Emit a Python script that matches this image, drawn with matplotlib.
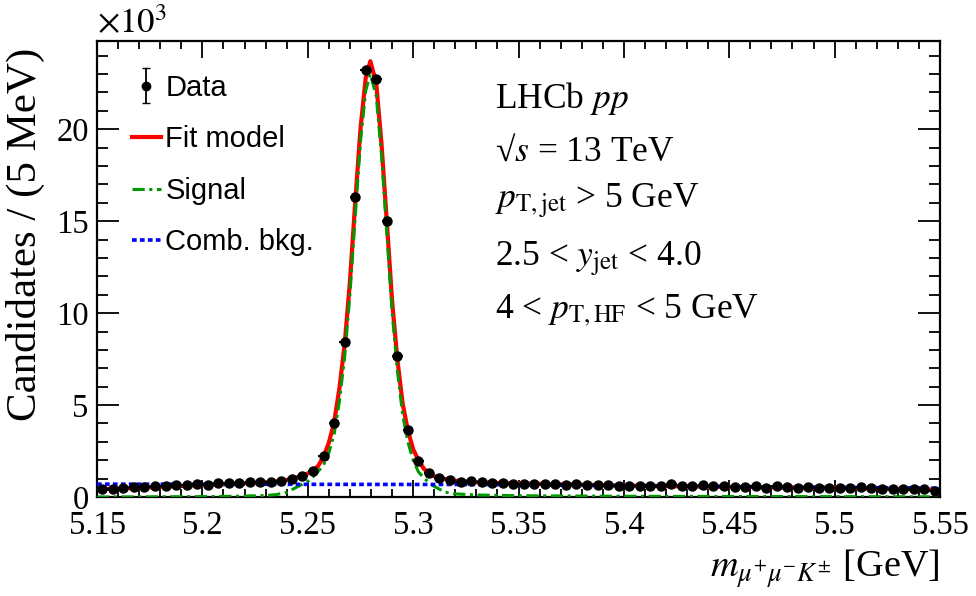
import numpy as np
import matplotlib
matplotlib.use("Agg")
from matplotlib import pyplot as plt
from matplotlib.lines import Line2D
from matplotlib.container import ErrorbarContainer
from matplotlib.legend_handler import HandlerErrorbar
from matplotlib.ticker import MultipleLocator, FuncFormatter

plt.rcParams['mathtext.fontset'] = 'stix'
plt.rcParams['font.family'] = ['Liberation Serif', 'DejaVu Serif']

# candidates per 5 MeV bin, in units of 10^3, 80 bins from 5.15 to 5.55 GeV
bin_lo, bin_hi, n_bins = 5.15, 5.55, 80
counts = [0.42, 0.45, 0.49, 0.53, 0.54, 0.62, 0.62, 0.63, 0.63, 0.71,
          0.67, 0.74, 0.78, 0.78, 0.82, 0.82, 0.82, 0.85, 0.98, 1.14,
          1.41, 2.23, 4.04, 8.41, 16.3, 23.24, 22.72, 15.02, 7.66, 3.64,
          1.97, 1.29, 1.02, 0.92, 0.82, 0.87, 0.80, 0.74, 0.74, 0.71,
          0.71, 0.69, 0.69, 0.69, 0.65, 0.69, 0.65, 0.65, 0.65, 0.62,
          0.62, 0.62, 0.60, 0.62, 0.69, 0.60, 0.62, 0.63, 0.62, 0.58,
          0.56, 0.54, 0.62, 0.51, 0.60, 0.54, 0.51, 0.56, 0.51, 0.51,
          0.51, 0.51, 0.53, 0.47, 0.45, 0.42, 0.42, 0.42, 0.43, 0.34]

# fit model curve
fit_m = [5.15, 5.16, 5.17, 5.18, 5.19, 5.20, 5.21, 5.22, 5.23, 5.235,
         5.24, 5.245, 5.25, 5.2525, 5.255, 5.2575, 5.26, 5.2625, 5.265, 5.2675,
         5.27, 5.2725, 5.275, 5.2775, 5.2797, 5.2825, 5.285, 5.2875, 5.29, 5.2925,
         5.295, 5.2975, 5.30, 5.3025, 5.305, 5.3075, 5.31, 5.315, 5.32, 5.33,
         5.35, 5.40, 5.45, 5.50, 5.55]
fit_val = [0.42, 0.46, 0.50, 0.55, 0.60, 0.65, 0.70, 0.75, 0.80, 0.84,
           0.93, 1.07, 1.28, 1.43, 1.70, 2.20, 2.95, 4.05, 5.90, 8.30,
           11.7, 16.0, 20.0, 22.8, 23.7, 22.5, 19.2, 15.0, 10.7, 7.5,
           5.1, 3.62, 2.6, 2.0, 1.55, 1.28, 1.13, 0.98, 0.89, 0.80,
           0.74, 0.62, 0.55, 0.49, 0.40]

# signal component
sig_m = [5.15, 5.20, 5.22, 5.23, 5.235, 5.24, 5.245, 5.25, 5.2525, 5.255,
         5.2575, 5.26, 5.2625, 5.265, 5.2675, 5.27, 5.2725, 5.275, 5.2775, 5.2797,
         5.2825, 5.285, 5.2875, 5.29, 5.2925, 5.295, 5.2975, 5.30, 5.3025, 5.305,
         5.3075, 5.31, 5.315, 5.32, 5.33, 5.35, 5.40, 5.55]
sig_val = [0.0, 0.02, 0.05, 0.08, 0.13, 0.25, 0.55, 0.85, 1.1, 1.4,
           1.75, 2.4, 3.4, 5.2, 7.6, 11.0, 15.2, 19.3, 22.1, 23.0,
           21.8, 18.6, 14.4, 10.1, 6.9, 4.5, 3.0, 2.0, 1.37, 1.05,
           0.78, 0.58, 0.27, 0.17, 0.11, 0.07, 0.04, 0.01]

# combinatorial background
bkg_m = [5.15, 5.33, 5.55]
bkg_val = [0.70, 0.68, 0.48]

centers = np.linspace(bin_lo, bin_hi, n_bins + 1)[:-1] + (bin_hi - bin_lo) / n_bins / 2
counts = np.array(counts)
errs = np.sqrt(counts * 1000.0) / 1000.0

fig = plt.figure(figsize=(9.76, 5.96), dpi=100)
ax = fig.add_axes([0.0994, 0.1661, 0.8637, 0.7651])

sig_style = (0, (4, 1.5, 1, 1.5))
bkg_style = (0, (1.3, 0.9))
ax.plot(fit_m, fit_val, color='#ff0000', lw=3.0, zorder=2)
ax.plot(sig_m, sig_val, color='#009900', lw=2.2, ls=sig_style, zorder=3)
ax.plot(bkg_m, bkg_val, color='#0000ff', lw=2.6, ls=bkg_style, zorder=3)
ax.errorbar(centers, counts, xerr=(bin_hi - bin_lo) / n_bins / 2, yerr=errs,
            fmt='o', color='black', ms=6.5, elinewidth=1.5, capsize=0, zorder=5)

ax.set_xlim(bin_lo, bin_hi)
ax.set_ylim(0, 24.8)
ax.xaxis.set_major_locator(MultipleLocator(0.05))
ax.xaxis.set_minor_locator(MultipleLocator(0.01))
ax.yaxis.set_major_locator(MultipleLocator(5))
ax.yaxis.set_minor_locator(MultipleLocator(1))
ax.xaxis.set_major_formatter(FuncFormatter(lambda v, p: ('%.2f' % v).rstrip('0').rstrip('.')))
ax.tick_params(which='both', direction='in', top=True, right=True, width=1.3, labelsize=23.5)
ax.tick_params(axis='x', which='major', length=12, pad=10)
ax.tick_params(axis='x', which='minor', length=6)
ax.tick_params(axis='y', which='major', length=16, pad=6)
ax.tick_params(axis='y', which='minor', length=8)
for s in ax.spines.values():
    s.set_linewidth(1.6)

ax.set_ylabel('Candidates / (5 MeV)', fontsize=31, ha='right')
ax.yaxis.set_label_coords(-0.062, 0.985)
ax.set_xlabel(r'$m_{\mu^{+}\mu^{-}K^{\pm}}$ [GeV]', fontsize=27.5, ha='right')
ax.xaxis.set_label_coords(1.0, -0.11)
ax.text(0.0, 1.0, r'$\times10^{3}$', transform=ax.transAxes, fontsize=25, ha='left', va='bottom')

txt = [r'LHCb $pp$',
       '\u221a$s$ = 13 TeV',
       r'$p_{\mathrm{T,jet}}$ > 5 GeV',
       r'2.5 < $y_{\mathrm{jet}}$ < 4.0',
       r'4 < $p_{\mathrm{T,HF}}$ < 5 GeV']
ty = [0.875, 0.757, 0.648, 0.52, 0.408]
for t, y in zip(txt, ty):
    ax.text(0.472, y, t, transform=ax.transAxes, fontsize=25.5, ha='left', va='center')

data_proxy = ax.errorbar([np.nan], [np.nan], yerr=[np.nan], fmt='o', color='black',
                         ms=6, elinewidth=1.3, capsize=3)
handles = [data_proxy,
           Line2D([], [], color='#ff0000', lw=3.0),
           Line2D([], [], color='#009900', lw=2.2, ls=sig_style),
           Line2D([], [], color='#0000ff', lw=2.6, ls=bkg_style)]
labels = ['Data', 'Fit model', 'Signal', 'Comb. bkg.']
leg = ax.legend(handles, labels, loc='upper left', bbox_to_anchor=(0.01, 0.985), frameon=False,
                handlelength=1.0, handletextpad=0.15, labelspacing=0.8,
                prop={'family': 'Liberation Sans', 'size': 21},
                handler_map={ErrorbarContainer: HandlerErrorbar(yerr_size=0.6)})

fig.savefig('out.png', dpi=100)
